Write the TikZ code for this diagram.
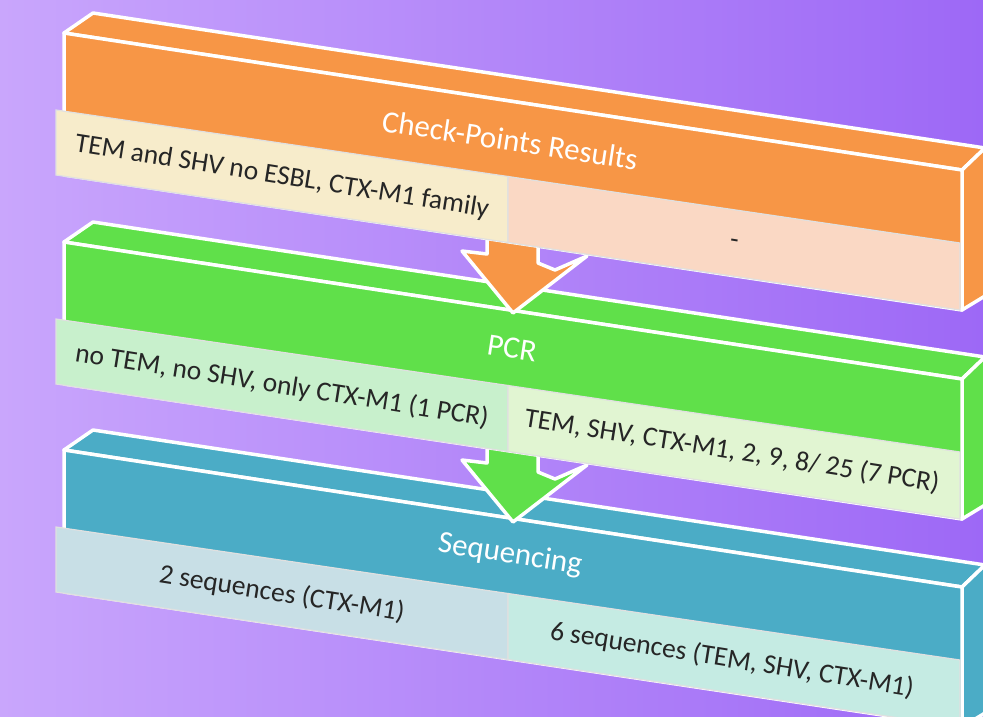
\documentclass[tikz,border=0pt]{standalone}
\usepackage{fontspec}
\setmainfont{Carlito}
\definecolor{bgleft}{RGB}{201,166,252}
\definecolor{bgright}{RGB}{157,104,246}
\definecolor{checkc}{RGB}{247,150,70}
\definecolor{checkl}{RGB}{247,236,203}
\definecolor{checkr}{RGB}{250,216,196}
\definecolor{pcrc}{RGB}{96,224,74}
\definecolor{pcrl}{RGB}{200,240,204}
\definecolor{pcrr}{RGB}{225,245,210}
\definecolor{seqc}{RGB}{75,172,198}
\definecolor{seql}{RGB}{200,223,230}
\definecolor{seqr}{RGB}{197,235,227}
\tikzset{
  face/.style={draw=white,line width=3.5pt,line join=round},
  cell/.style={draw=black!12,line width=1.2pt},
  title/.style={text=white,font=\fontsize{31}{31}\selectfont,rotate=-8.7},
  result/.style={text=black!85,font=\fontsize{27.5}{30}\selectfont,rotate=-9}
}

\begin{document}
\begin{tikzpicture}[x=1pt,y=-1pt]

\useasboundingbox (0,0) rectangle (983,716);
\clip (0,0) rectangle (983,716);
\shade[left color=bgleft,right color=bgright] (0,0) rectangle (983,716);

% sequencing slab
\begin{scope}[shift={(0,417)}]
\fill[seqc,face] (64,33) -- (93,13) -- (985,148) -- (962,170) -- cycle;
\fill[seqc,face] (962,170) -- (985,148) -- (985,296) -- (962,310) -- cycle;
\fill[seqc,face] (64,33) -- (962,170) -- (962,310) -- (64,175) -- cycle;
\fill[seql,cell] (56,110) -- (508,176.5) -- (508,242.5) -- (56,175) -- cycle;
\fill[seqr,cell] (508,176.5) -- (960,243) -- (960,310) -- (508,242.5) -- cycle;
\node[title] (seq) at (510,138) {Sequencing};
\node[result] (seqleft) at (282,177) {2 sequences (CTX-M1)};
\node[result] (seqright) at (732,243) {6 sequences (TEM, SHV, CTX-M1)};
\end{scope}

% arrow pcr -> sequencing
\begin{scope}[shift={(0,209)}]
\fill[pcrc,face] (487,215) -- (487,254) -- (462,251) -- (513,313) -- (587,256)
  -- (555,270) -- (538,263) -- (538,215) -- cycle;
\end{scope}

% pcr slab
\begin{scope}[shift={(0,209)}]
\fill[pcrc,face] (64,33) -- (93,13) -- (985,148) -- (962,170) -- cycle;
\fill[pcrc,face] (962,170) -- (985,148) -- (985,296) -- (962,310) -- cycle;
\fill[pcrc,face] (64,33) -- (962,170) -- (962,310) -- (64,175) -- cycle;
\fill[pcrl,cell] (56,110) -- (508,176.5) -- (508,242.5) -- (56,175) -- cycle;
\fill[pcrr,cell] (508,176.5) -- (960,243) -- (960,310) -- (508,242.5) -- cycle;
\node[title] (pcr) at (512,139) {PCR};
\node[result] (pcrleft) at (282,177) {no TEM, no SHV, only CTX-M1 (1 PCR)};
\node[result] (pcrright) at (732,242) {TEM, SHV, CTX-M1, 2, 9, 8/ 25 (7 PCR)};
\end{scope}

% arrow check-points -> pcr
\fill[checkc,face] (487,215) -- (487,254) -- (462,251) -- (513,313) -- (587,256)
  -- (555,270) -- (538,263) -- (538,215) -- cycle;

% check-points slab
\fill[checkc,face] (64,33) -- (93,13) -- (985,148) -- (962,170) -- cycle;
\fill[checkc,face] (962,170) -- (985,148) -- (985,296) -- (962,310) -- cycle;
\fill[checkc,face] (64,33) -- (962,170) -- (962,310) -- (64,175) -- cycle;
\fill[checkl,cell] (56,110) -- (508,176.5) -- (508,242.5) -- (56,175) -- cycle;
\fill[checkr,cell] (508,176.5) -- (960,243) -- (960,310) -- (508,242.5) -- cycle;
\node[title] (cp) at (510,140) {Check-Points Results};
\node[result] (cpleft) at (282,177) {TEM and SHV no ESBL, CTX-M1 family};
\node[result] (cpright) at (734,244) {-};

\end{tikzpicture}
\end{document}
